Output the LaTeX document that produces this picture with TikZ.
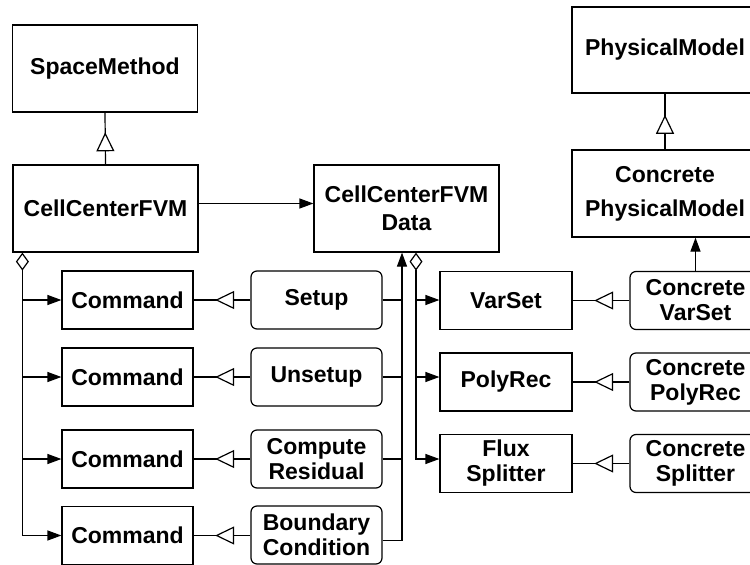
\documentclass[tikz,border=0pt]{standalone}
\usepackage{fontspec}
\setmainfont{Liberation Sans}
\usetikzlibrary{arrows.meta,decorations.markings,calc}

\begin{document}
\begin{tikzpicture}[x=1pt,y=-1pt,line width=1.2pt,
  every node/.style={font=\fontsize{23}{25}\selectfont\bfseries,align=center,inner sep=0pt},
  bigbox/.style={draw,minimum width=185pt,minimum height=87pt},
  smallbox/.style={draw,minimum width=131pt,minimum height=58pt},
  rbox/.style={smallbox,rounded corners=6pt},
  dep/.style={-{Triangle[length=14pt,width=10pt]}},
  agg/.style={{Diamond[open,length=18pt,width=13pt]}-{Triangle[length=14pt,width=10pt]}},
  gen/.style={postaction={decorate},decoration={markings,
      mark=at position 0.62 with {\arrow{Triangle[length=19pt,width=18pt,fill=white]}}}}]
  \useasboundingbox (0,0) rectangle (750,565);
  \clip (0,0) rectangle (750,565);

  % class boxes
  \node[bigbox] (sm) at (105,68.5) {SpaceMethod};
  \node[bigbox] (cc) at (105.5,208.5) {CellCenterFVM};
  \node[bigbox] (data) at (406.5,208.5) {CellCenterFVM\\[3pt]Data};
  \node[bigbox,minimum width=186pt,minimum height=86pt] (pm) at (665,50) {PhysicalModel};
  \node[bigbox,minimum width=186pt] (cpm) at (665,193.5) {Concrete\\[9pt]PhysicalModel};

  % commands
  \node[smallbox] (c1) at (127.5,300) {Command};
  \node[smallbox] (c2) at (127.5,377) {Command};
  \node[smallbox] (c3) at (127.5,459) {Command};
  \node[smallbox] (c4) at (127.5,535.5) {Command};

  \node[rbox] (setup) at (316.5,300) {Setup};
  \node[rbox] (unsetup) at (316.5,377) {Unsetup};
  \node[rbox] (cres) at (316.5,459) {Compute\\Residual};
  \node[rbox] (bc) at (316.5,535) {Boundary\\Condition};

  % strategies
  \node[smallbox,minimum width=132pt] (vs) at (506,300.5) {VarSet};
  \node[smallbox,minimum width=132pt] (pr) at (506,382) {PolyRec};
  \node[smallbox,minimum width=132pt] (fs) at (506,463.5) {Flux\\Splitter};

  \node[rbox] (cvs) at (695.5,300.5) {Concrete\\VarSet};
  \node[rbox] (cpr) at (695.5,382) {Concrete\\PolyRec};
  \node[rbox] (cfs) at (695.5,463.5) {Concrete\\Splitter};

  % inheritance
  \draw[gen] (cc.north) -- (sm.south);
  \draw[gen] (cpm.north) -- (pm.south);
  \draw[gen] (setup.west) -- (c1.east);
  \draw[gen] (unsetup.west) -- (c2.east);
  \draw[gen] (cres.west) -- (c3.east);
  \draw[gen] (bc.west |- c4.east) -- (c4.east);
  \draw[gen] (cvs.west) -- (vs.east);
  \draw[gen] (cpr.west) -- (pr.east);
  \draw[gen] (cfs.west) -- (fs.east);

  % associations
  \draw[dep] ([yshift=5pt]cc.east) -- ([yshift=5pt]data.west);
  \draw[dep] (cvs.north) -- (cvs.north |- cpm.south);

  % CellCenterFVM owns its commands
  \coordinate (ccA) at ([xshift=10pt]cc.south west);
  \draw[agg] (ccA) |- (c4.west);
  \draw[dep] (ccA |- c1.west) -- (c1.west);
  \draw[dep] (ccA |- c2.west) -- (c2.west);
  \draw[dep] (ccA |- c3.west) -- (c3.west);

  % commands use the data
  \coordinate (dA) at ([xshift=-4.5pt]data.south);
  \coordinate (dB) at ([xshift=9.5pt]data.south);
  \draw[dep] ([yshift=-5.5pt]bc.east) -| (dA);
  \draw (setup.east) -- (setup.east -| dA);
  \draw (unsetup.east) -- (unsetup.east -| dA);
  \draw (cres.east) -- (cres.east -| dA);

  % the data owns the strategies
  \draw[agg] (dB) |- (fs.west |- c3.east);
  \draw[dep] (dB |- c1.east) -- (vs.west |- c1.east);
  \draw[dep] (dB |- c2.east) -- (pr.west |- c2.east);
\end{tikzpicture}
\end{document}
